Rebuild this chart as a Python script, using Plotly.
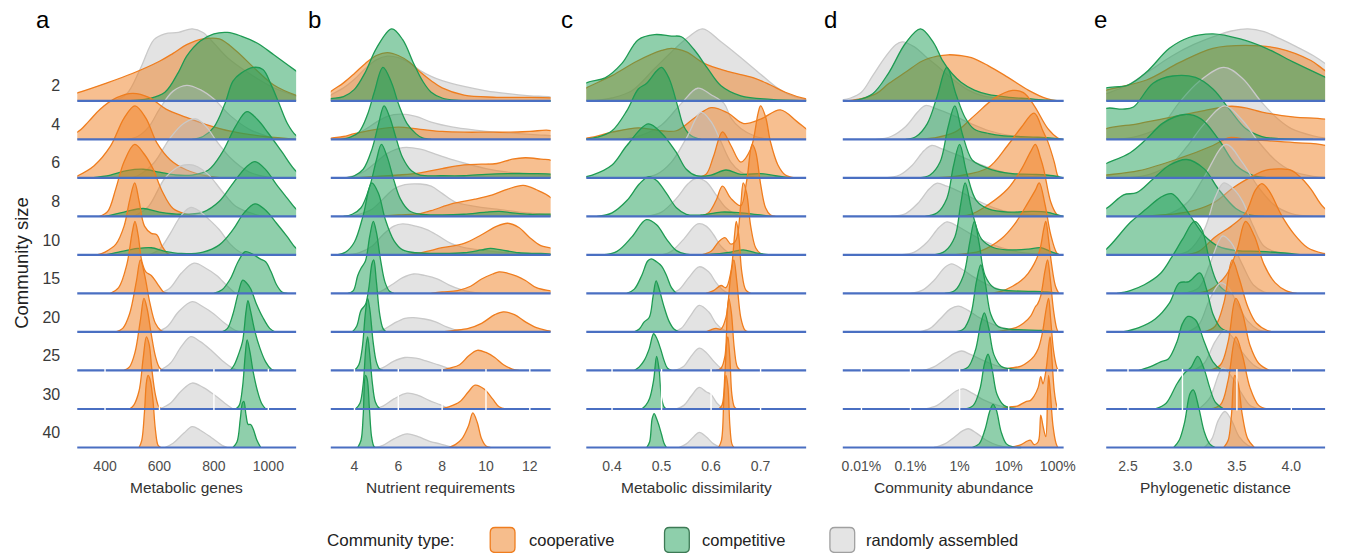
import math
import plotly.graph_objects as go

# ---------------------------------------------------------------------------
# Data: one ridge per community size and type. Each ridge is a list of
# (value, density) pairs; density is relative to the tallest ridge of its row (=100).
# ---------------------------------------------------------------------------
SIZES = ["2", "4", "6", "8", "10", "15", "20", "25", "30", "40"]
TYPES = ["cooperative", "competitive", "randomly assembled"]

# a — Metabolic genes
genes_ticks = [400, 600, 800, 1000]
genes_coop = [
    [(200, 0), (298, 11), (400, 24), (500, 38), (600, 55), (650, 66), (700, 78), (760, 86), (820, 86), (880, 70), (950, 45), (1020, 22), (1100, 8), (1180, 0)],
    [(200, 0), (298, 10), (340, 25), (382, 42), (443, 58), (502, 64), (563, 58), (624, 42), (696, 31), (769, 21), (866, 11), (987, 4), (1100, 0)],
    [(280, 0), (300, 3), (360, 17), (420, 44), (470, 83), (510, 100), (550, 83), (590, 49), (640, 25), (700, 11), (770, 3), (830, 0)],
    [(380, 0), (410, 7), (440, 39), (470, 76), (509, 100), (545, 86), (575, 67), (610, 35), (650, 11), (700, 3), (740, 0)],
    [(370, 0), (400, 4), (440, 15), (470, 40), (490, 75), (509, 100), (525, 75), (545, 40), (570, 30), (590, 28), (610, 12), (630, 2), (650, 0)],
    [(420, 0), (450, 8), (480, 40), (500, 85), (510, 100), (522, 80), (535, 45), (550, 30), (570, 25), (595, 12), (615, 2), (630, 0)],
    [(440, 0), (465, 5), (490, 25), (515, 70), (530, 100), (545, 80), (565, 40), (585, 12), (605, 2), (620, 0)],
    [(470, 0), (490, 5), (510, 25), (530, 70), (543, 100), (555, 85), (570, 50), (585, 20), (600, 4), (615, 0)],
    [(490, 0), (505, 5), (525, 25), (540, 70), (552, 100), (562, 90), (572, 55), (585, 20), (598, 3), (610, 0)],
    [(525, 0), (535, 10), (545, 50), (552, 90), (558, 100), (565, 95), (575, 70), (585, 25), (595, 3), (605, 0)],
]
genes_comp = [
    [(480, 0), (560, 3), (620, 12), (670, 40), (700, 62), (750, 83), (800, 93), (850, 95), (900, 90), (960, 80), (1020, 64), (1100, 42), (1180, 20), (1250, 0)],
    [(720, 0), (760, 4), (800, 17), (840, 49), (870, 81), (900, 92), (945, 100), (980, 97), (1010, 76), (1040, 49), (1070, 22), (1100, 6), (1130, 0)],
    [(350, 0), (420, 4), (480, 10), (540, 12), (600, 8), (660, 4), (720, 4), (780, 11), (830, 35), (880, 72), (921, 92), (960, 81), (1000, 62), (1050, 36), (1100, 10), (1140, 0)],
    [(400, 0), (470, 6), (540, 11), (600, 6), (680, 3), (760, 6), (820, 21), (870, 46), (920, 69), (951, 76), (990, 65), (1030, 44), (1070, 25), (1100, 11), (1140, 0)],
    [(400, 0), (450, 4), (520, 9), (570, 10), (620, 5), (680, 2), (760, 4), (820, 14), (870, 35), (910, 58), (951, 71), (990, 62), (1030, 44), (1070, 25), (1100, 10), (1140, 0)],
    [(800, 0), (830, 5), (860, 20), (890, 45), (915, 58), (940, 55), (970, 48), (990, 44), (1010, 30), (1030, 12), (1050, 2), (1070, 0)],
    [(830, 0), (850, 5), (870, 25), (890, 55), (906, 72), (920, 68), (935, 60), (955, 40), (980, 20), (1005, 5), (1025, 0)],
    [(860, 0), (875, 8), (890, 22), (905, 40), (918, 82), (925, 97), (935, 82), (950, 55), (970, 30), (990, 12), (1010, 2), (1020, 0)],
    [(880, 0), (893, 5), (905, 30), (915, 75), (922, 96), (932, 80), (945, 50), (960, 25), (975, 8), (990, 0)],
    [(870, 0), (885, 8), (897, 40), (905, 62), (910, 64), (918, 45), (926, 32), (935, 32), (945, 25), (958, 10), (972, 0)],
]
genes_rand = [
    [(430, 0), (480, 10), (530, 45), (580, 85), (620, 93), (670, 95), (720, 100), (760, 95), (800, 80), (850, 60), (930, 38), (1010, 20), (1100, 7), (1180, 0)],
    [(480, 0), (520, 4), (560, 17), (600, 42), (650, 67), (700, 75), (750, 69), (800, 56), (860, 33), (930, 14), (1000, 4), (1060, 0)],
    [(480, 0), (520, 3), (580, 21), (640, 56), (690, 76), (733, 82), (770, 72), (810, 51), (860, 28), (930, 8), (1000, 1), (1040, 0)],
    [(500, 0), (520, 3), (560, 14), (620, 53), (670, 69), (709, 72), (740, 69), (780, 58), (830, 35), (880, 14), (950, 3), (990, 0)],
    [(560, 0), (600, 8), (640, 30), (680, 55), (715, 66), (750, 60), (780, 50), (820, 35), (860, 15), (900, 3), (930, 0)],
    [(600, 0), (640, 8), (680, 28), (727, 42), (770, 35), (810, 25), (850, 10), (880, 0)],
    [(590, 0), (630, 8), (670, 28), (720, 42), (760, 35), (800, 25), (840, 12), (880, 2), (900, 0)],
    [(600, 0), (640, 10), (680, 33), (715, 47), (750, 40), (790, 28), (830, 14), (870, 3), (890, 0)],
    [(600, 0), (640, 8), (680, 25), (720, 36), (760, 30), (800, 20), (840, 8), (870, 0)],
    [(620, 0), (650, 6), (690, 20), (720, 29), (750, 24), (790, 14), (830, 3), (850, 0)],
]

# b — Nutrient requirements
nutr_ticks = [4, 6, 8, 10, 12]
nutr_coop = [
    [(2.4, 0), (2.92, 13), (3.5, 25), (4.0, 38), (4.5, 52), (5.0, 63), (5.5, 67), (6.0, 63), (6.5, 54), (7.0, 40), (7.5, 28), (8.0, 18), (9.0, 8), (10.5, 5), (13.0, 4), (13.5, 0)],
    [(2.6, 0), (3.0, 2), (3.5, 4), (4.0, 8), (5.0, 14), (6.0, 17), (7.0, 14), (8.0, 11), (9.0, 10), (10.0, 10), (11.0, 10), (12.0, 11), (13.0, 12), (13.5, 0)],
    [(4.0, 0), (5.0, 2), (6.0, 4), (7.0, 7), (8.0, 13), (9.0, 18), (9.8, 19), (10.5, 20), (11.2, 26), (11.8, 28), (12.5, 26), (13.0, 24), (13.5, 0)],
    [(5.0, 0), (6.0, 2), (7.0, 4), (7.5, 8), (8.5, 18), (9.5, 24), (10.3, 30), (11.0, 38), (11.7, 43), (12.3, 37), (13.0, 25), (13.5, 0)],
    [(6.0, 0), (7.0, 3), (8.0, 10), (9.0, 16), (9.8, 28), (10.5, 40), (11.0, 44), (11.5, 38), (12.0, 24), (12.5, 13), (13.0, 9), (13.5, 0)],
    [(7.5, 0), (8.0, 2), (8.7, 4), (9.3, 10), (9.8, 20), (10.3, 27), (10.6, 30), (11.0, 28), (11.4, 24), (11.8, 18), (12.3, 8), (13.0, 3), (13.5, 0)],
    [(8.0, 0), (8.5, 2), (9.2, 5), (9.8, 12), (10.4, 24), (10.8, 28), (11.3, 24), (11.8, 14), (12.3, 6), (12.8, 2), (13.2, 0)],
    [(7.9, 0), (8.3, 3), (8.8, 8), (9.2, 20), (9.6, 28), (10.0, 25), (10.4, 18), (10.8, 8), (11.2, 2), (11.5, 0)],
    [(7.9, 0), (8.3, 3), (8.8, 10), (9.2, 24), (9.5, 33), (9.9, 28), (10.3, 14), (10.6, 3), (10.9, 0)],
    [(8.3, 0), (8.6, 4), (8.9, 12), (9.2, 30), (9.4, 48), (9.6, 35), (9.8, 12), (10.0, 2), (10.2, 0)],
]
nutr_comp = [
    [(2.5, 0), (2.92, 3), (3.5, 6), (4.0, 16), (4.5, 40), (5.0, 73), (5.7, 100), (6.2, 85), (6.7, 52), (7.1, 28), (7.5, 12), (8.0, 4), (8.6, 1), (13.5, 0)],
    [(3.4, 0), (3.8, 3), (4.2, 10), (4.6, 35), (4.9, 65), (5.3, 100), (5.7, 78), (6.0, 50), (6.4, 22), (6.8, 8), (7.1, 2), (7.5, 0)],
    [(3.5, 0), (4.0, 3), (4.4, 12), (4.8, 40), (5.1, 75), (5.35, 100), (5.6, 85), (5.9, 55), (6.2, 28), (6.6, 10), (7.0, 4), (8.0, 3), (9.0, 3), (10.0, 5), (11.0, 6), (12.0, 6), (13.0, 5), (13.5, 0)],
    [(3.5, 0), (3.9, 3), (4.3, 12), (4.7, 42), (5.0, 78), (5.23, 100), (5.5, 82), (5.8, 50), (6.1, 24), (6.5, 8), (7.0, 3), (8.0, 2), (9.0, 3), (10.0, 6), (10.6, 7), (11.2, 5), (12.0, 3), (13.0, 3), (13.5, 0)],
    [(3.2, 0), (3.6, 4), (4.0, 18), (4.4, 55), (4.79, 100), (5.1, 85), (5.4, 50), (5.8, 20), (6.2, 7), (6.8, 3), (8.0, 2), (9.0, 3), (9.8, 7), (10.2, 9), (10.7, 7), (11.5, 3), (12.5, 2), (13.5, 0)],
    [(3.7, 0), (3.95, 4), (4.15, 25), (4.3, 35), (4.5, 45), (4.7, 80), (4.86, 100), (5.0, 85), (5.2, 45), (5.4, 15), (5.6, 3), (5.8, 0)],
    [(3.9, 0), (4.1, 8), (4.3, 30), (4.5, 38), (4.65, 60), (4.8, 95), (4.88, 100), (5.0, 70), (5.15, 25), (5.3, 5), (5.45, 0)],
    [(4.0, 0), (4.2, 8), (4.35, 30), (4.5, 80), (4.6, 100), (4.7, 85), (4.85, 40), (5.0, 12), (5.15, 2), (5.3, 0)],
    [(4.05, 0), (4.25, 8), (4.4, 35), (4.52, 85), (4.6, 100), (4.7, 75), (4.82, 35), (4.95, 10), (5.1, 2), (5.2, 0)],
    [(4.15, 0), (4.3, 10), (4.4, 45), (4.5, 100), (4.58, 95), (4.68, 55), (4.78, 15), (4.88, 2), (4.95, 0)],
]
nutr_rand = [
    [(2.6, 0), (2.92, 8), (3.5, 18), (4.0, 30), (4.5, 45), (5.0, 57), (5.5, 62), (6.0, 60), (6.5, 53), (7.0, 42), (7.5, 34), (8.0, 28), (9.0, 20), (10.0, 14), (11.0, 10), (12.0, 7), (13.0, 5), (13.5, 0)],
    [(3.0, 0), (3.5, 2), (4.0, 6), (4.5, 14), (5.0, 24), (5.5, 32), (6.1, 35), (6.8, 32), (7.5, 24), (8.5, 17), (9.5, 13), (10.5, 10), (11.5, 8), (12.5, 6), (13.0, 5), (13.5, 0)],
    [(3.5, 0), (4.0, 3), (4.5, 10), (5.0, 22), (5.5, 34), (6.2, 42), (7.0, 40), (7.8, 32), (8.5, 25), (9.2, 19), (10.0, 13), (11.0, 8), (12.0, 5), (13.0, 3), (13.5, 0)],
    [(3.5, 0), (4.2, 3), (4.8, 10), (5.3, 24), (5.8, 38), (6.3, 44), (7.0, 45), (7.5, 42), (8.0, 32), (8.6, 20), (9.5, 14), (10.5, 10), (11.5, 6), (12.5, 3), (13.2, 0)],
    [(3.5, 0), (4.2, 3), (4.8, 12), (5.3, 28), (5.8, 40), (6.2, 43), (6.8, 40), (7.3, 35), (7.8, 27), (8.4, 16), (9.0, 10), (10.0, 6), (11.0, 3), (12.0, 1), (12.5, 0)],
    [(4.8, 0), (5.2, 3), (5.7, 12), (6.2, 22), (6.7, 27), (7.2, 25), (7.8, 20), (8.3, 12), (8.8, 6), (9.3, 2), (9.8, 0)],
    [(4.9, 0), (5.3, 3), (5.8, 12), (6.3, 19), (6.7, 20), (7.2, 18), (7.7, 14), (8.2, 7), (8.7, 2), (9.2, 0)],
    [(4.9, 0), (5.3, 4), (5.8, 13), (6.3, 18), (6.8, 17), (7.3, 13), (7.8, 8), (8.3, 3), (8.7, 0)],
    [(4.9, 0), (5.3, 4), (5.8, 14), (6.4, 22), (6.9, 19), (7.4, 12), (7.9, 6), (8.3, 1), (8.6, 0)],
    [(4.9, 0), (5.3, 3), (5.8, 12), (6.4, 19), (6.9, 15), (7.4, 9), (7.9, 5), (8.4, 1), (8.7, 0)],
]

# c — Metabolic dissimilarity
dissim_ticks = [0.4, 0.5, 0.6, 0.7]
dissim_coop = [
    [(0.30, 0), (0.348, 18), (0.40, 35), (0.45, 55), (0.50, 70), (0.52, 73), (0.55, 68), (0.586, 52), (0.633, 41), (0.686, 32), (0.72, 22), (0.75, 12), (0.79, 3), (0.82, 0)],
    [(0.33, 0), (0.36, 3), (0.40, 10), (0.453, 16), (0.50, 12), (0.53, 12), (0.567, 30), (0.60, 44), (0.633, 37), (0.666, 22), (0.70, 28), (0.74, 41), (0.773, 25), (0.793, 14), (0.82, 0)],
    [(0.57, 0), (0.59, 5), (0.605, 30), (0.623, 64), (0.64, 45), (0.66, 22), (0.68, 40), (0.695, 90), (0.70, 100), (0.71, 85), (0.72, 50), (0.735, 18), (0.75, 4), (0.77, 0)],
    [(0.58, 0), (0.595, 5), (0.61, 22), (0.623, 42), (0.64, 25), (0.66, 15), (0.672, 50), (0.683, 100), (0.69, 90), (0.70, 45), (0.71, 12), (0.72, 2), (0.73, 0)],
    [(0.58, 0), (0.60, 5), (0.615, 18), (0.628, 24), (0.64, 15), (0.65, 20), (0.66, 70), (0.665, 100), (0.672, 85), (0.68, 40), (0.69, 10), (0.70, 2), (0.71, 0)],
    [(0.59, 0), (0.605, 4), (0.62, 11), (0.63, 8), (0.64, 30), (0.648, 85), (0.651, 100), (0.656, 80), (0.662, 30), (0.67, 5), (0.68, 0)],
    [(0.59, 0), (0.60, 3), (0.61, 5), (0.62, 4), (0.63, 20), (0.64, 80), (0.646, 100), (0.652, 70), (0.66, 20), (0.668, 3), (0.675, 0)],
    [(0.61, 0), (0.62, 3), (0.628, 20), (0.633, 85), (0.636, 100), (0.641, 80), (0.647, 30), (0.653, 5), (0.66, 0)],
    [(0.615, 0), (0.622, 5), (0.628, 50), (0.632, 95), (0.634, 100), (0.638, 70), (0.642, 20), (0.647, 3), (0.652, 0)],
    [(0.615, 0), (0.621, 10), (0.626, 70), (0.63, 100), (0.634, 85), (0.638, 30), (0.642, 5), (0.646, 0)],
]
dissim_comp = [
    [(0.30, 0), (0.348, 25), (0.386, 32), (0.42, 52), (0.453, 85), (0.486, 92), (0.52, 90), (0.54, 89), (0.566, 71), (0.593, 45), (0.62, 21), (0.66, 7), (0.72, 2), (0.80, 0)],
    [(0.34, 0), (0.37, 3), (0.40, 12), (0.43, 40), (0.453, 70), (0.47, 78), (0.49, 95), (0.50, 100), (0.515, 85), (0.533, 45), (0.545, 18), (0.56, 5), (0.58, 0)],
    [(0.33, 0), (0.36, 4), (0.40, 18), (0.43, 45), (0.473, 75), (0.50, 62), (0.53, 35), (0.55, 12), (0.57, 3), (0.60, 4), (0.63, 11), (0.66, 5), (0.70, 6), (0.73, 3), (0.76, 0)],
    [(0.37, 0), (0.40, 5), (0.43, 22), (0.455, 45), (0.473, 55), (0.49, 50), (0.51, 32), (0.53, 12), (0.55, 3), (0.58, 2), (0.62, 6), (0.66, 5), (0.70, 2), (0.72, 0)],
    [(0.38, 0), (0.41, 5), (0.44, 25), (0.469, 49), (0.49, 42), (0.51, 22), (0.53, 6), (0.55, 1), (0.60, 1), (0.64, 4), (0.665, 7), (0.69, 3), (0.72, 0)],
    [(0.43, 0), (0.445, 6), (0.46, 25), (0.472, 45), (0.479, 48), (0.49, 44), (0.50, 38), (0.51, 25), (0.52, 8), (0.53, 0)],
    [(0.445, 0), (0.455, 4), (0.465, 14), (0.475, 20), (0.483, 50), (0.489, 71), (0.495, 60), (0.505, 35), (0.515, 15), (0.525, 4), (0.535, 0)],
    [(0.445, 0), (0.455, 5), (0.465, 14), (0.475, 30), (0.484, 51), (0.49, 45), (0.498, 30), (0.505, 14), (0.512, 3), (0.52, 0)],
    [(0.46, 0), (0.468, 5), (0.476, 15), (0.484, 40), (0.49, 73), (0.495, 55), (0.50, 15), (0.505, 3), (0.51, 0)],
    [(0.47, 0), (0.476, 8), (0.481, 40), (0.485, 47), (0.49, 40), (0.495, 30), (0.50, 18), (0.505, 6), (0.51, 0)],
]
dissim_rand = [
    [(0.36, 0), (0.40, 4), (0.44, 14), (0.486, 45), (0.52, 68), (0.553, 88), (0.583, 100), (0.62, 82), (0.653, 64), (0.70, 37), (0.73, 20), (0.76, 8), (0.79, 2), (0.82, 0)],
    [(0.42, 0), (0.46, 6), (0.50, 20), (0.54, 50), (0.573, 71), (0.60, 62), (0.626, 50), (0.64, 30), (0.66, 15), (0.69, 4), (0.72, 0)],
    [(0.46, 0), (0.49, 5), (0.52, 22), (0.55, 55), (0.58, 91), (0.60, 78), (0.62, 50), (0.64, 22), (0.66, 8), (0.68, 2), (0.70, 0)],
    [(0.47, 0), (0.50, 6), (0.53, 25), (0.553, 45), (0.57, 53), (0.59, 48), (0.61, 30), (0.63, 12), (0.65, 3), (0.67, 0)],
    [(0.50, 0), (0.52, 5), (0.545, 22), (0.573, 43), (0.59, 40), (0.605, 28), (0.62, 12), (0.635, 3), (0.645, 0)],
    [(0.52, 0), (0.535, 5), (0.555, 22), (0.576, 37), (0.595, 30), (0.61, 15), (0.625, 4), (0.635, 0)],
    [(0.525, 0), (0.54, 5), (0.558, 22), (0.576, 37), (0.595, 28), (0.61, 12), (0.625, 3), (0.635, 0)],
    [(0.525, 0), (0.545, 6), (0.56, 20), (0.576, 31), (0.59, 25), (0.605, 13), (0.62, 3), (0.63, 0)],
    [(0.53, 0), (0.545, 5), (0.56, 18), (0.576, 30), (0.59, 24), (0.60, 20), (0.612, 8), (0.625, 0)],
    [(0.535, 0), (0.55, 5), (0.565, 15), (0.576, 21), (0.59, 15), (0.605, 5), (0.62, 0)],
]

# d — Community abundance (percent, log scale)
abund_ticks = [0.01, 0.1, 1, 10, 100]
abund_labels = ["0.01%", "0.1%", "1%", "10%", "100%"]
abund_coop = [
    [(0.005, 0), (0.01, 3), (0.02, 10), (0.036, 24), (0.08, 40), (0.17, 55), (0.35, 62), (0.59, 64), (1.0, 63), (1.74, 60), (3.8, 49), (9.5, 33), (25, 15), (60, 3), (100, 0)],
    [(0.1, 0), (0.3, 2), (0.8, 10), (2, 33), (5.1, 57), (12, 68), (20, 65), (33, 47), (63, 15), (100, 2), (120, 0)],
    [(0.3, 0), (1, 3), (3.8, 14), (9.5, 45), (18, 70), (33, 90), (50, 65), (63, 50), (85, 22), (100, 3), (110, 0)],
    [(0.5, 0), (1.7, 3), (3.8, 16), (9.5, 38), (18, 65), (28, 90), (35, 100), (45, 80), (52, 65), (72, 20), (95, 3), (110, 0)],
    [(0.7, 0), (2.8, 6), (7, 22), (13, 42), (25, 73), (35, 90), (42, 100), (55, 70), (72, 28), (95, 3), (110, 0)],
    [(4, 0), (7, 3), (12, 10), (18, 18), (25, 28), (33, 41), (43, 60), (52, 90), (57, 100), (65, 75), (75, 40), (90, 10), (105, 0)],
    [(5, 0), (9, 3), (14, 6), (20, 12), (28, 22), (35, 35), (39, 39), (45, 50), (55, 85), (62, 100), (70, 75), (82, 30), (95, 5), (102, 0)],
    [(6, 0), (10, 3), (18, 6), (25, 12), (33, 20), (40, 30), (48, 50), (58, 85), (65, 100), (72, 70), (82, 28), (95, 5), (102, 0)],
    [(7, 0), (10, 3), (15, 4), (22, 10), (28, 12), (33, 18), (40, 30), (45, 45), (50, 35), (58, 55), (66, 90), (70, 100), (76, 70), (85, 25), (95, 5), (102, 0)],
    [(10, 0), (18, 4), (24, 9), (28, 10), (33, 4), (40, 8), (45, 45), (50, 30), (57, 15), (62, 70), (65, 100), (70, 80), (80, 30), (92, 6), (100, 0)],
]
abund_comp = [
    [(0.005, 0), (0.008, 1), (0.017, 10), (0.036, 39), (0.079, 80), (0.16, 100), (0.3, 80), (0.44, 57), (0.7, 38), (1.07, 26), (2, 15), (3.8, 9), (10, 5), (25, 3), (60, 1), (130, 0)],
    [(0.08, 0), (0.13, 4), (0.22, 22), (0.35, 60), (0.55, 100), (0.85, 62), (1.3, 30), (2, 14), (4, 8), (8, 5), (15, 4), (40, 3), (100, 1), (130, 0)],
    [(0.15, 0), (0.25, 4), (0.4, 22), (0.58, 70), (0.8, 100), (1.15, 60), (1.8, 25), (3, 16), (6, 9), (12, 6), (30, 5), (80, 3), (130, 0)],
    [(0.2, 0), (0.35, 5), (0.55, 25), (0.75, 70), (1.0, 100), (1.4, 60), (2.2, 22), (4, 10), (10, 6), (30, 7), (60, 6), (100, 2), (130, 0)],
    [(0.3, 0), (0.5, 5), (0.8, 25), (1.05, 70), (1.3, 100), (1.8, 60), (2.8, 22), (5, 10), (10, 7), (25, 8), (45, 10), (70, 5), (110, 0)],
    [(0.5, 0), (0.8, 4), (1.2, 25), (1.6, 70), (2.0, 100), (2.5, 70), (3.3, 25), (5, 8), (10, 4), (25, 3), (60, 2), (100, 0)],
    [(0.8, 0), (1.2, 4), (1.7, 25), (2.2, 70), (2.7, 93), (3.3, 70), (4.3, 25), (6, 8), (10, 4), (20, 3), (50, 2), (100, 0)],
    [(1.0, 0), (1.5, 5), (2.1, 28), (2.7, 65), (3.2, 80), (3.9, 60), (5, 22), (7, 6), (12, 2), (30, 1), (60, 0)],
    [(1.3, 0), (1.9, 5), (2.6, 28), (3.2, 62), (3.8, 76), (4.6, 55), (5.8, 20), (8, 5), (12, 1), (20, 0)],
    [(1.8, 0), (2.5, 5), (3.3, 25), (4.1, 50), (4.8, 60), (5.6, 52), (7, 22), (9, 5), (12, 1), (18, 0)],
]
abund_rand = [
    [(0.003, 0), (0.006, 4), (0.01, 12), (0.017, 35), (0.03, 60), (0.05, 78), (0.068, 82), (0.12, 75), (0.2, 62), (0.4, 45), (0.8, 28), (1.5, 15), (3, 7), (8, 3), (20, 1), (60, 0)],
    [(0.02, 0), (0.04, 4), (0.08, 18), (0.14, 38), (0.2, 47), (0.35, 42), (0.7, 34), (1.7, 22), (4, 12), (9.5, 6), (30, 2), (80, 0)],
    [(0.03, 0), (0.06, 4), (0.11, 18), (0.19, 38), (0.27, 45), (0.45, 40), (0.9, 32), (2, 22), (5, 12), (12, 5), (30, 2), (80, 0)],
    [(0.04, 0), (0.08, 4), (0.14, 18), (0.24, 38), (0.34, 46), (0.55, 42), (1.1, 33), (2.3, 22), (5, 12), (12, 5), (30, 2), (80, 0)],
    [(0.06, 0), (0.12, 4), (0.22, 18), (0.38, 38), (0.55, 46), (0.9, 40), (1.6, 30), (3, 20), (7, 10), (16, 4), (40, 1), (80, 0)],
    [(0.1, 0), (0.18, 5), (0.3, 18), (0.5, 36), (0.69, 41), (1.1, 34), (1.8, 24), (3.5, 13), (7, 5), (15, 1), (30, 0)],
    [(0.15, 0), (0.25, 5), (0.4, 18), (0.65, 32), (0.94, 36), (1.5, 30), (2.5, 20), (5, 10), (10, 4), (20, 1), (40, 0)],
    [(0.18, 0), (0.3, 5), (0.5, 15), (0.8, 24), (1.1, 27), (1.7, 22), (3, 14), (6, 6), (12, 2), (25, 0)],
    [(0.2, 0), (0.35, 5), (0.55, 15), (0.85, 25), (1.19, 28), (1.8, 22), (3, 13), (6, 5), (12, 1), (20, 0)],
    [(0.3, 0), (0.5, 5), (0.8, 15), (1.15, 23), (1.5, 26), (2.2, 20), (3.5, 10), (6, 3), (10, 0)],
]

# e — Phylogenetic distance
phylo_ticks = [2.5, 3.0, 3.5, 4.0]
phylo_labels = ["2.5", "3.0", "3.5", "4.0"]
phylo_coop = [
    [(2.0, 0), (2.2, 10), (2.3, 15), (2.67, 29), (2.97, 53), (3.28, 73), (3.58, 77), (3.88, 73), (4.18, 56), (4.31, 42), (4.5, 25), (4.8, 6), (5.0, 0)],
    [(2.0, 0), (2.3, 15), (2.6, 22), (2.97, 33), (3.2, 40), (3.45, 46), (3.6, 43), (3.73, 38), (4.03, 31), (4.31, 28), (4.6, 15), (4.9, 0)],
    [(2.0, 0), (2.3, 4), (2.6, 10), (2.97, 27), (3.28, 45), (3.43, 56), (3.6, 53), (3.73, 52), (4.03, 49), (4.31, 45), (4.6, 25), (4.9, 0)],
    [(2.6, 0), (2.9, 3), (3.1, 8), (3.3, 20), (3.45, 38), (3.55, 48), (3.76, 64), (3.9, 66), (4.0, 64), (4.1, 52), (4.18, 38), (4.3, 12), (4.45, 0)],
    [(3.0, 0), (3.15, 5), (3.3, 25), (3.45, 40), (3.58, 58), (3.67, 90), (3.73, 99), (3.8, 88), (3.91, 55), (4.02, 30), (4.15, 10), (4.3, 2), (4.4, 0)],
    [(3.1, 0), (3.25, 5), (3.4, 25), (3.5, 60), (3.58, 100), (3.66, 80), (3.75, 40), (3.85, 15), (3.95, 4), (4.05, 0)],
    [(3.2, 0), (3.3, 8), (3.38, 40), (3.457, 100), (3.52, 75), (3.6, 35), (3.68, 12), (3.78, 2), (3.85, 0)],
    [(3.25, 0), (3.35, 8), (3.42, 40), (3.49, 100), (3.55, 80), (3.62, 35), (3.7, 10), (3.8, 0)],
    [(3.25, 0), (3.35, 6), (3.42, 40), (3.49, 100), (3.55, 75), (3.62, 30), (3.7, 5), (3.78, 0)],
    [(3.38, 0), (3.42, 10), (3.45, 45), (3.48, 100), (3.51, 90), (3.55, 45), (3.6, 12), (3.66, 0)],
]
phylo_comp = [
    [(2.0, 0), (2.2, 12), (2.3, 18), (2.5, 22), (2.67, 40), (2.88, 73), (3.06, 88), (3.28, 93), (3.53, 86), (3.77, 73), (4.03, 53), (4.31, 33), (4.5, 20), (4.8, 5), (5.0, 0)],
    [(2.1, 0), (2.2, 30), (2.3, 43), (2.45, 42), (2.55, 45), (2.73, 78), (2.91, 88), (3.12, 86), (3.28, 70), (3.43, 42), (3.58, 15), (3.73, 4), (3.9, 1), (4.2, 0)],
    [(2.0, 0), (2.15, 10), (2.3, 20), (2.52, 35), (2.67, 54), (2.82, 76), (3.02, 88), (3.17, 82), (3.33, 54), (3.49, 18), (3.64, 4), (3.8, 0)],
    [(2.1, 0), (2.3, 11), (2.46, 30), (2.58, 33), (2.73, 52), (2.88, 71), (3.04, 79), (3.2, 66), (3.33, 38), (3.49, 11), (3.6, 3), (3.75, 0)],
    [(2.2, 0), (2.3, 8), (2.52, 45), (2.67, 64), (2.8, 80), (2.9, 85), (3.0, 70), (3.1, 48), (3.2, 27), (3.33, 12), (3.5, 6), (3.7, 5), (3.9, 3), (4.1, 0)],
    [(2.4, 0), (2.52, 4), (2.65, 12), (2.8, 28), (2.9, 50), (3.0, 75), (3.11, 100), (3.18, 88), (3.25, 45), (3.32, 15), (3.4, 3), (3.5, 0)],
    [(2.45, 0), (2.6, 6), (2.75, 18), (2.88, 40), (2.97, 68), (3.06, 70), (3.16, 82), (3.22, 60), (3.28, 25), (3.35, 6), (3.42, 0)],
    [(2.6, 0), (2.7, 5), (2.8, 12), (2.87, 16), (2.95, 40), (3.0, 65), (3.05, 75), (3.12, 70), (3.2, 40), (3.28, 12), (3.35, 2), (3.4, 0)],
    [(2.75, 0), (2.85, 8), (2.95, 35), (3.02, 50), (3.08, 58), (3.14, 73), (3.2, 55), (3.25, 30), (3.3, 10), (3.38, 0)],
    [(2.92, 0), (2.97, 10), (3.02, 35), (3.07, 75), (3.1, 80), (3.15, 55), (3.2, 22), (3.25, 5), (3.3, 0)],
]
phylo_rand = [
    [(2.1, 0), (2.3, 10), (2.5, 22), (2.7, 42), (2.9, 62), (3.1, 78), (3.3, 90), (3.45, 97), (3.6, 100), (3.75, 96), (3.9, 86), (4.05, 75), (4.2, 63), (4.31, 52), (4.5, 30), (4.7, 10), (4.9, 0)],
    [(2.4, 0), (2.6, 5), (2.8, 18), (2.97, 51), (3.15, 80), (3.38, 100), (3.55, 85), (3.73, 51), (3.88, 28), (4.0, 15), (4.2, 5), (4.4, 0)],
    [(2.5, 0), (2.7, 5), (2.9, 20), (3.05, 45), (3.2, 75), (3.39, 100), (3.55, 80), (3.7, 50), (3.85, 25), (4.0, 10), (4.2, 2), (4.4, 0)],
    [(2.7, 0), (2.9, 5), (3.05, 20), (3.2, 55), (3.4, 100), (3.55, 75), (3.7, 40), (3.85, 15), (4.0, 4), (4.2, 0)],
    [(2.9, 0), (3.05, 5), (3.2, 35), (3.3, 80), (3.38, 100), (3.48, 90), (3.55, 75), (3.65, 40), (3.75, 12), (3.9, 2), (4.0, 0)],
    [(3.0, 0), (3.15, 8), (3.25, 40), (3.37, 80), (3.45, 70), (3.55, 40), (3.65, 12), (3.75, 2), (3.85, 0)],
    [(3.05, 0), (3.15, 10), (3.25, 45), (3.35, 68), (3.42, 62), (3.5, 40), (3.6, 15), (3.7, 3), (3.8, 0)],
    [(3.1, 0), (3.2, 10), (3.3, 40), (3.38, 55), (3.45, 48), (3.55, 25), (3.65, 8), (3.75, 0)],
    [(3.15, 0), (3.25, 15), (3.37, 57), (3.45, 45), (3.55, 20), (3.62, 5), (3.7, 0)],
    [(3.2, 0), (3.27, 12), (3.33, 38), (3.39, 50), (3.45, 38), (3.52, 15), (3.6, 3), (3.65, 0)],
]

# ---------------------------------------------------------------------------
# Layout constants (pixels of the 1346 x 553 canvas)
# ---------------------------------------------------------------------------
W, H = 1346, 553
N = len(SIZES)
PLOT_TOP, PLOT_BOTTOM = 20, 450
Y_RANGE = [-0.065, 11.10]          # row baselines at y = 9 ... 0
PEAK = 72 / 38.5                   # tallest ridge of a row, in row spacings
FONT = "Liberation Sans, Arial, Helvetica, sans-serif"

STYLE = {
    "cooperative": dict(line="#EF7D1E", fill="rgba(240,128,34,0.50)", key_fill="#F6BD8C", key_line="#EF7D1E"),
    "competitive": dict(line="#1E9B53", fill="rgba(32,160,88,0.50)", key_fill="#8ECFAB", key_line="#3D7A55"),
    "randomly assembled": dict(line="#C9C9C9", fill="rgba(185,185,185,0.40)", key_fill="#E4E4E4", key_line="#A0A0A0"),
}

panels = [
    dict(letter="a", title="Metabolic genes", px=(77, 298), rng=[298, 1102], log=False,
         ticks=genes_ticks, labels=[str(t) for t in genes_ticks],
         data={"cooperative": genes_coop, "competitive": genes_comp, "randomly assembled": genes_rand}),
    dict(letter="b", title="Nutrient requirements", px=(333, 555), rng=[2.92, 12.95], log=False,
         ticks=nutr_ticks, labels=[str(t) for t in nutr_ticks],
         data={"cooperative": nutr_coop, "competitive": nutr_comp, "randomly assembled": nutr_rand}),
    dict(letter="c", title="Metabolic dissimilarity", px=(591, 813), rng=[0.348, 0.792], log=False,
         ticks=dissim_ticks, labels=[str(t) for t in dissim_ticks],
         data={"cooperative": dissim_coop, "competitive": dissim_comp, "randomly assembled": dissim_rand}),
    dict(letter="d", title="Community abundance", px=(850, 1073), rng=[-2.38, 2.12], log=True,
         ticks=abund_ticks, labels=abund_labels,
         data={"cooperative": abund_coop, "competitive": abund_comp, "randomly assembled": abund_rand}),
    dict(letter="e", title="Phylogenetic distance", px=(1116, 1337), rng=[2.3, 4.31], log=False,
         ticks=phylo_ticks, labels=phylo_labels,
         data={"cooperative": phylo_coop, "competitive": phylo_comp, "randomly assembled": phylo_rand}),
]

DRAW_ORDER = ["randomly assembled", "cooperative", "competitive"]


def px_x(x):
    return x / W


def px_y(y):
    return 1 - y / H


fig = go.Figure()
layout = dict(
    width=W, height=H, autosize=False,
    margin=dict(l=0, r=0, t=0, b=0),
    paper_bgcolor="white", plot_bgcolor="white",
    showlegend=False,
    font=dict(family=FONT, color="#333333"),
    yaxis=dict(
        domain=[px_y(PLOT_BOTTOM), px_y(PLOT_TOP)], range=Y_RANGE,
        showgrid=False, zeroline=False, showline=False, ticks="",
        tickvals=[N - 1 - i + 0.39 for i in range(N)], ticktext=SIZES,
        tickfont=dict(size=16, color="#3A3A3A", family=FONT),
        ticklabelstandoff=16, fixedrange=True,
    ),
)
shapes, annotations = [], []

for k, p in enumerate(panels):
    ax = "x" if k == 0 else f"x{k + 1}"
    lay_key = "xaxis" if k == 0 else f"xaxis{k + 1}"
    layout[lay_key] = dict(
        domain=[px_x(p["px"][0]), px_x(p["px"][1])], anchor="y",
        type="log" if p["log"] else "linear", range=p["rng"],
        showgrid=False, zeroline=False, showline=False, ticks="",
        tickvals=p["ticks"], ticktext=p["labels"],
        tickfont=dict(size=14, color="#4D4D4D", family=FONT),
        ticklabelstandoff=6, fixedrange=True,
    )

    # ridges: rows from top to bottom so lower rows overlap the ones above
    for i in range(N):
        base = N - 1 - i
        for t in DRAW_ORDER:
            pts = p["data"][t][i]
            xs = [v for v, _ in pts]
            ys = [base + d / 100 * PEAK for _, d in pts]
            st = STYLE[t]
            fig.add_trace(go.Scatter(
                x=xs, y=ys, xaxis=ax, yaxis="y", mode="lines",
                line=dict(color=st["line"], width=1.3, shape="spline", smoothing=1.0),
                fill="toself", fillcolor=st["fill"], hoverinfo="skip", showlegend=False,
            ))

    # blue baselines
    for i in range(N):
        base = N - 1 - i
        shapes.append(dict(type="line", xref=f"{ax} domain", x0=0, x1=1, yref="y", y0=base, y1=base,
                           line=dict(color="#4A6FC2", width=2.2), layer="above"))

    # thin white grid segments crossing the rows of sizes 25 and 30
    lo, hi = p["rng"]
    for tv in p["ticks"]:
        pos = math.log10(tv) if p["log"] else tv
        f = (pos - lo) / (hi - lo)
        shapes.append(dict(type="line", xref=f"{ax} domain", x0=f, x1=f, yref="y", y0=0.96, y1=2.04,
                           line=dict(color="white", width=1.4), layer="above"))

    cx = (p["px"][0] + p["px"][1]) / 2
    annotations.append(dict(text=p["title"], x=px_x(cx), y=px_y(487), xref="paper", yref="paper",
                            xanchor="center", yanchor="middle", showarrow=False,
                            font=dict(size=15.5, color="#333333", family=FONT)))

# panel letters
for letter, lx in zip("abcde", [42, 317, 572, 838, 1110]):
    annotations.append(dict(text=letter, x=px_x(lx), y=px_y(19), xref="paper", yref="paper",
                            xanchor="center", yanchor="middle", showarrow=False,
                            font=dict(size=24, color="black", family=FONT)))

# y-axis title
annotations.append(dict(text="Community size", x=px_x(20), y=px_y(263), xref="paper", yref="paper",
                        xanchor="center", yanchor="middle", showarrow=False, textangle=-90,
                        font=dict(size=18.5, color="#222222", family=FONT)))

# legend
LEG_Y = 540
annotations.append(dict(text="Community type:", x=px_x(327), y=px_y(LEG_Y), xref="paper", yref="paper",
                        xanchor="left", yanchor="middle", showarrow=False,
                        font=dict(size=17, color="#222222", family=FONT)))


def rounded_rect(x0, y0, x1, y1, r):
    pts = [
        ("M", x0 + r, y0), ("L", x1 - r, y0), ("Q", x1, y0, x1, y0 + r), ("L", x1, y1 - r),
        ("Q", x1, y1, x1 - r, y1), ("L", x0 + r, y1), ("Q", x0, y1, x0, y1 - r),
        ("L", x0, y0 + r), ("Q", x0, y0, x0 + r, y0),
    ]
    out = []
    for seg in pts:
        cmd, coords = seg[0], seg[1:]
        conv = []
        for j in range(0, len(coords), 2):
            conv.append(f"{px_x(coords[j]):.5f},{px_y(coords[j + 1]):.5f}")
        out.append(cmd + " ".join(conv))
    return " ".join(out) + " Z"


for t, kx, tx in zip(TYPES, [494, 670, 837], [531, 706, 871]):
    st = STYLE[t]
    shapes.append(dict(type="path", xref="paper", yref="paper",
                       path=rounded_rect(kx, LEG_Y - 12.5, kx + 25, LEG_Y + 12.5, 5),
                       fillcolor=st["key_fill"], line=dict(color=st["key_line"], width=1.3), layer="above"))
    annotations.append(dict(text=t, x=px_x(tx), y=px_y(LEG_Y), xref="paper", yref="paper",
                            xanchor="left", yanchor="middle", showarrow=False,
                            font=dict(size=16.5, color="#222222", family=FONT)))

layout["shapes"] = shapes
layout["annotations"] = annotations
fig.update_layout(**layout)
fig.write_html("out.html", config={"displayModeBar": False, "staticPlot": True})
